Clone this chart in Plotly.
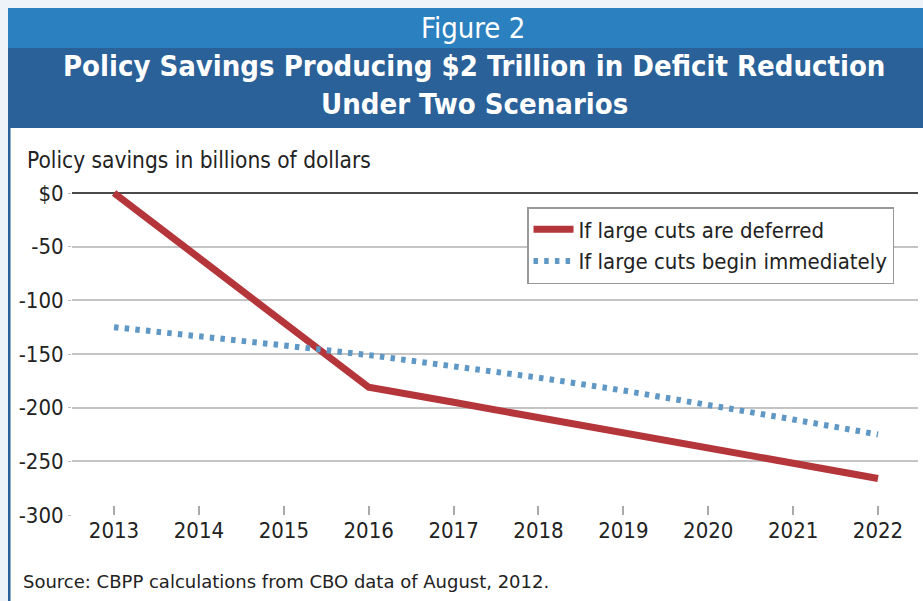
import plotly.graph_objects as go

years = [2013, 2014, 2015, 2016, 2017, 2018, 2019, 2020, 2021, 2022]
deferred = [0, -60, -121, -181, -195, -209, -223, -237, -252, -266]
immediate = [-125, -133, -142, -151, -161, -172, -184, -197, -211, -225]
ytick_vals = [0, -50, -100, -150, -200, -250, -300]
ytick_text = ["$0", "-50", "-100", "-150", "-200", "-250", "-300"]

W, H = 923, 601
L, R, T, B = 72, 918, 187, 515

def px(x):
    return (x - L) / (R - L)

def py(y):
    return (B - y) / (B - T)

NARROW = "Liberation Sans Narrow, DejaVu Sans Condensed, Arial Narrow, sans-serif"

fig = go.Figure()
fig.add_trace(go.Scatter(
    x=years, y=deferred, mode="lines", name="If large cuts are deferred",
    line=dict(color="#b4363b", width=7)))
fig.add_trace(go.Scatter(
    x=years, y=immediate, mode="lines", name="If large cuts begin immediately",
    line=dict(color="#5f97c5", width=6, dash="4.5px,6.2px")))

shapes = [
    dict(type="rect", xref="paper", yref="paper", x0=px(0), x1=px(W), y0=py(0), y1=py(8),
         fillcolor="#eef3fa", line_width=0, layer="below"),
    dict(type="rect", xref="paper", yref="paper", x0=px(0), x1=px(8), y0=py(0), y1=py(H),
         fillcolor="#eef3fa", line_width=0, layer="below"),
    dict(type="rect", xref="paper", yref="paper", x0=px(8), x1=px(W), y0=py(8), y1=py(48),
         fillcolor="#2b80bf", line_width=0, layer="below"),
    dict(type="rect", xref="paper", yref="paper", x0=px(8), x1=px(W), y0=py(48), y1=py(128),
         fillcolor="#2a6199", line_width=0, layer="below"),
    dict(type="rect", xref="paper", yref="paper", x0=px(8), x1=px(10.5), y0=py(128), y1=py(H),
         fillcolor="#2a6199", line_width=0, layer="below"),
]

annotations = [
    dict(text="Figure 2", xref="paper", yref="paper", x=px(473), y=py(28), showarrow=False,
         xanchor="center", yanchor="middle", font=dict(family=NARROW, size=29, color="white")),
    dict(text="<b>Policy Savings Producing $2 Trillion in Deficit Reduction</b>", xref="paper", yref="paper",
         x=px(474), y=py(66), showarrow=False, xanchor="center", yanchor="middle",
         font=dict(family=NARROW, size=29, color="white")),
    dict(text="<b>Under Two Scenarios</b>", xref="paper", yref="paper",
         x=px(474), y=py(104), showarrow=False, xanchor="center", yanchor="middle",
         font=dict(family=NARROW, size=29, color="white")),
    dict(text="Policy savings in billions of dollars", xref="paper", yref="paper",
         x=px(25), y=py(160), showarrow=False, xanchor="left", yanchor="middle",
         font=dict(family=NARROW, size=22.5, color="#222222")),
    dict(text="Source: CBPP calculations from CBO data of August, 2012.", xref="paper", yref="paper",
         x=px(21), y=py(581), showarrow=False, xanchor="left", yanchor="middle",
         font=dict(family="DejaVu Sans, Verdana, sans-serif", size=18, color="#222222")),
]

fig.update_layout(
    width=W, height=H,
    margin=dict(l=L, r=W - R, t=T, b=H - B, pad=0, autoexpand=False),
    paper_bgcolor="white", plot_bgcolor="white",
    shapes=shapes, annotations=annotations,
    showlegend=True,
    legend=dict(x=px(527), y=py(207), xanchor="left", yanchor="top",
                bgcolor="white", bordercolor="#999999", borderwidth=1.5,
                font=dict(family=NARROW, size=22, color="#222222"),
                itemwidth=40, tracegroupgap=0),
    xaxis=dict(range=[2012.505, 2022.471], tickvals=years, ticks="inside", ticklen=9,
               tickcolor="#aaaaaa", tickwidth=1.5, showgrid=False, zeroline=False,
               showline=False, tickfont=dict(family=NARROW, size=22, color="#222222")),
    yaxis=dict(range=[-300, 300 * (B - T) / (515 - 193) - 300], tickvals=ytick_vals, ticktext=ytick_text,
               ticks="outside", ticklen=3, tickcolor="#bbbbbb", showgrid=True, gridcolor="#c4c4c4",
               gridwidth=1.5, zeroline=True, zerolinecolor="#4a4a4a", zerolinewidth=2,
               showline=False, tickfont=dict(family=NARROW, size=22, color="#222222")),
)

fig.write_html("out.html")
